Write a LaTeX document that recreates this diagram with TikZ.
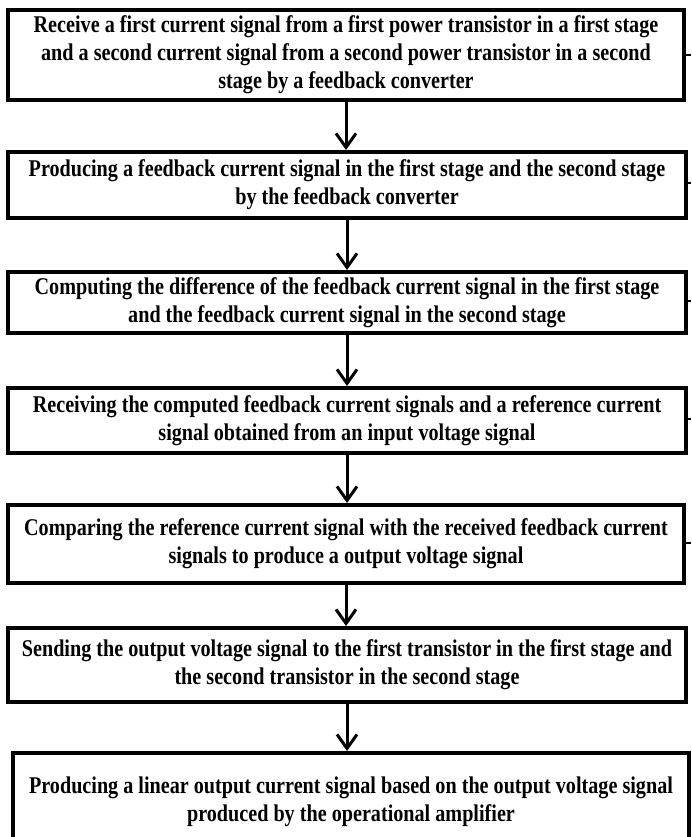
\documentclass[tikz,border=0pt]{standalone}
\usepackage{fontspec}
\newfontfamily\boxfont[FakeStretch=0.84]{Liberation Serif}
\usetikzlibrary{arrows.meta}
\begin{document}
\begin{tikzpicture}[x=1pt,y=-1pt,
  stepbox/.style={draw, line width=4pt, inner sep=0pt, align=center,
    font=\boxfont\bfseries\fontsize{24}{28}\selectfont},
  flow/.style={line width=3pt, -{Straight Barb[length=14pt,width=20pt,line width=3pt]}},
  stub/.style={line width=2pt}]
\useasboundingbox (0,0) rectangle (691,837);
\clip (0,0) rectangle (691,837);
\node[stepbox, minimum width=676pt, minimum height=90pt] (b1) at (346,55)
  {Receive a first current signal from a first power transistor in a first stage\\
   and a second current signal from a second power transistor in a second\\
   stage by a feedback converter};
\node[stepbox, minimum width=678pt, minimum height=66pt] (b2) at (347,185)
  {Producing a feedback current signal in the first stage and the second stage\\
   by the feedback converter};
\node[stepbox, minimum width=678pt, minimum height=61pt] (b3) at (347,302.5)
  {Computing the difference of the feedback current signal in the first stage\\
   and the feedback current signal in the second stage};
\node[stepbox, minimum width=678pt, minimum height=65pt] (b4) at (347,420.5)
  {Receiving the computed feedback current signals and a reference current\\
   signal obtained from an input voltage signal};
\node[stepbox, minimum width=676pt, minimum height=78pt] (b5) at (346,544)
  {Comparing the reference current signal with the received feedback current\\
   signals to produce a output voltage signal};
\node[stepbox, minimum width=678pt, minimum height=74pt] (b6) at (347,665)
  {Sending the output voltage signal to the first transistor in the first stage and\\
   the second transistor in the second stage};
\node[stepbox, minimum width=676pt, minimum height=97pt] (b7) at (351,801.5)
  {Producing a linear output current signal based on the output voltage signal\\
   produced by the operational amplifier};
\foreach \a/\b in {b1/b2,b2/b3,b3/b4,b4/b5,b5/b6,b6/b7}
  \draw[flow] (\a.south) -- (\a.south |- \b.north);
\coordinate (s1) at (691,55);
\coordinate (s2) at (691,183);
\coordinate (s3) at (691,301);
\coordinate (s4) at (691,419);
\coordinate (s5) at (691,543);
\foreach \n in {1,...,5}
  \draw[stub] (b\n.east |- s\n) -- (s\n);
\end{tikzpicture}
\end{document}
